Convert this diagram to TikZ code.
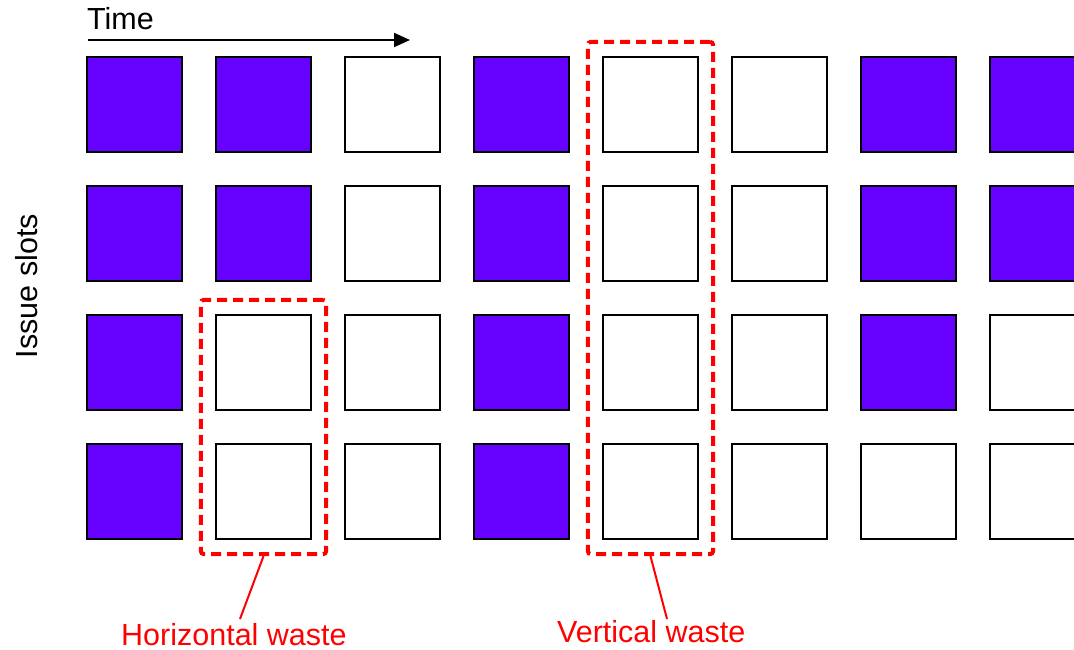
\documentclass[tikz,border=0pt]{standalone}
\usepackage{fontspec}
\setmainfont{Liberation Sans}
\usetikzlibrary{arrows.meta,fit}
\definecolor{slotpurple}{HTML}{6600FF}
\definecolor{waste}{HTML}{FF0000}
\begin{document}
\begin{tikzpicture}[x=1pt,y=-1pt,
  slot/.style={draw=black,line width=2.3pt,minimum size=95pt,inner sep=0pt,fill=white},
  busy/.style={slot,fill=slotpurple},
  wastebox/.style={draw=waste,line width=4pt,dash pattern=on 10pt off 6pt,rounded corners=3pt,inner sep=14pt},
  wasteline/.style={draw=waste,line width=2pt},
  lbl/.style={font=\fontsize{30.5}{36}\selectfont,inner sep=0pt}]
\useasboundingbox (0,0) rectangle (1074,650);
\fill[white] (0,0) rectangle (1074,650);
% pattern: 1 = busy
\foreach \r/\row in {1/{1,1,0,1,0,0,1,1},2/{1,1,0,1,0,0,1,1},3/{1,0,0,1,0,0,1,0},4/{1,0,0,1,0,0,0,0}}{
  \foreach \v [count=\c] in \row {
    \ifnum\v=1
      \node[busy] (s-\r-\c) at ({134.5+129*(\c-1)},{104.5+129*(\r-1)}) {};
    \else
      \node[slot] (s-\r-\c) at ({134.5+129*(\c-1)},{104.5+129*(\r-1)}) {};
    \fi
  }
}
% time arrow
\node[lbl,anchor=base west] (time) at (87,30) {Time};
\coordinate (t0) at (88,40);
\coordinate (t1) at (410,40);
\draw[line width=2pt,-{Triangle[length=16pt,width=14pt]}] (t0) -- (t1);
% issue slots
\node[lbl,rotate=90] (issue) at (26.5,286) {Issue slots};
% waste boxes
\node[wastebox,fit=(s-3-2)(s-4-2)] (hbox) {};
\node[wastebox,fit=(s-1-5)(s-4-5)] (vbox) {};
% labels
\node[lbl,text=waste,anchor=base west] (hw) at (121,645) {Horizontal waste};
\node[lbl,text=waste,anchor=base west] (vw) at (557,642) {Vertical waste};
\coordinate (hwend) at (240,619);
\coordinate (vwend) at (667,619);
\draw[wasteline] (hbox.south) -- (hwend);
\draw[wasteline] (vbox.south) -- (vwend);
\end{tikzpicture}
\end{document}
